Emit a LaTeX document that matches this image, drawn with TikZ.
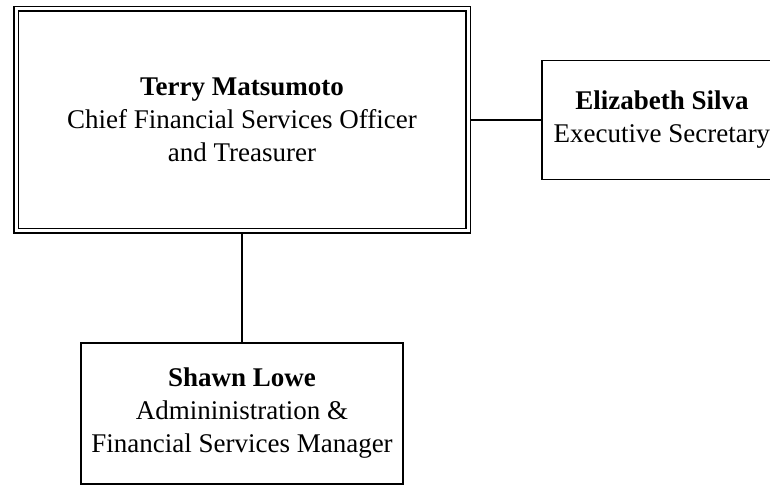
\documentclass[tikz,border=0pt]{standalone}
\usepackage{fontspec}
\setmainfont{Liberation Serif}
\usetikzlibrary{positioning}

\begin{document}
\begin{tikzpicture}[
        x=1pt, y=1pt,
        node distance=71pt and 109pt,
        staff/.style={rectangle, draw=black, line width=1.8pt, outer sep=0pt, inner sep=0pt, align=center, font=\fontsize{27}{33}\selectfont},
        chief/.style={staff, double, double distance=3pt, line width=1.4pt, outer sep=2.9pt, minimum width=452pt, minimum height=222pt},
        link/.style={line width=1.8pt}
    ]
    \clip (0,0) rectangle (770,-486);

    % Head of the department
    \node (cfo) [chief] at (242,-120) {\textbf{Terry Matsumoto}\\Chief Financial Services Officer\\and Treasurer};

    % Direct reports
    \node (sec) [staff, minimum width=240pt, minimum height=119pt, right=71pt of cfo] {\textbf{Elizabeth Silva}\\Executive Secretary};
    \node (mgr) [staff, minimum width=322pt, minimum height=141pt, below=109pt of cfo] {\textbf{Shawn Lowe}\\Admininistration \&\\Financial Services Manager};

    % Connectors
    \draw [link] (cfo) -- (sec);
    \draw [link] (cfo) -- (mgr);
\end{tikzpicture}
\end{document}
